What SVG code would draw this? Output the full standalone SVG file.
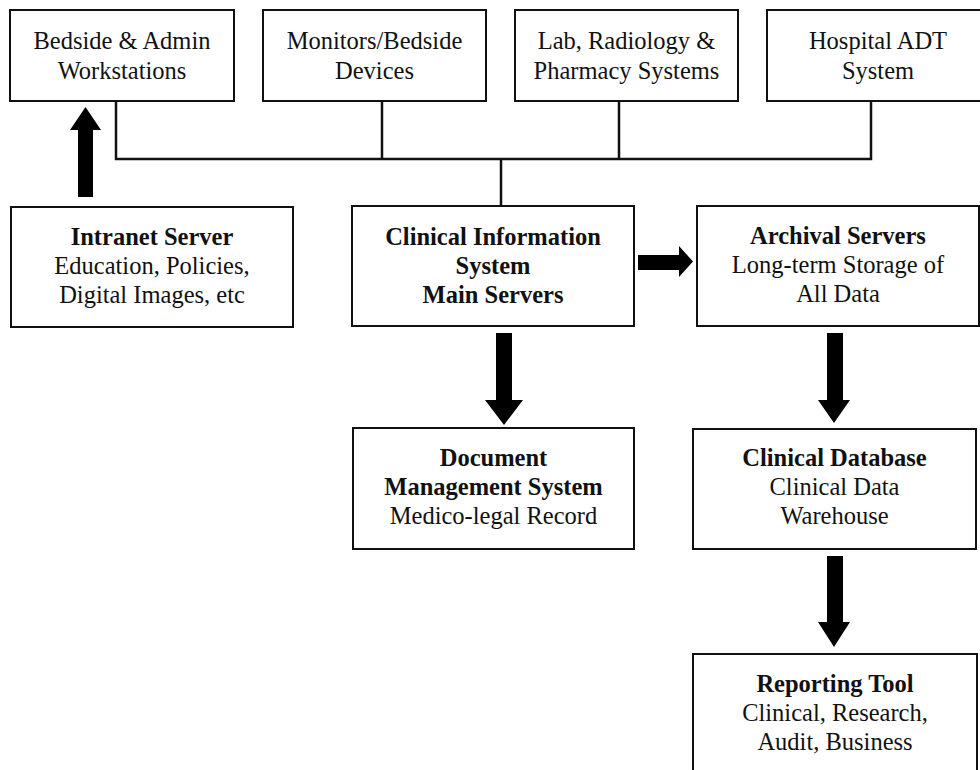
<svg xmlns="http://www.w3.org/2000/svg" width="980" height="770" viewBox="0 0 980 770">
<style>
.box{fill:#fff;stroke:#111;stroke-width:2}
.t{font-family:"Liberation Serif","Times New Roman",serif;font-size:24.5px;fill:#111;text-anchor:middle}
.b{font-weight:bold}
.bus{fill:none;stroke:#111;stroke-width:2.5}
.arr{fill:#000}
</style>
<rect x="0" y="0" width="980" height="770" fill="#fff"/>
<g id="connectors">
<path class="bus" d="M116 101V159H871V101M382 101V159M619 101V159M501 159V206"/>
<polygon class="arr" points="78,197 93,197 93,130 101,130 85.5,107 70,130 78,130"/>
<polygon class="arr" points="638,255 679,255 679,246 693,261.5 679,277 679,270 638,270"/>
<polygon class="arr" points="496,333 512,333 512,400 523,400 504,425 485,400 496,400"/>
<polygon class="arr" points="827,333 843,333 843,400 850,400 834,423 818,400 827,400"/>
<polygon class="arr" points="827,556 843,556 843,622 850,622 834,647 818,622 827,622"/>
</g>
<g id="bedside">
<rect class="box" x="10" y="10" width="224" height="91"/>
<text class="t" x="122" y="49">Bedside &amp; Admin</text>
<text class="t" x="122" y="79">Workstations</text>
</g>
<g id="monitors">
<rect class="box" x="263" y="10" width="223" height="91"/>
<text class="t" x="374.5" y="49">Monitors/Bedside</text>
<text class="t" x="374.5" y="79">Devices</text>
</g>
<g id="lab">
<rect class="box" x="515" y="10" width="223" height="91"/>
<text class="t" x="626.5" y="49">Lab, Radiology &amp;</text>
<text class="t" x="626.5" y="79">Pharmacy Systems</text>
</g>
<g id="adt">
<rect class="box" x="767" y="10" width="224" height="91"/>
<text class="t" x="878" y="49">Hospital ADT</text>
<text class="t" x="878" y="79">System</text>
</g>
<g id="intranet">
<rect class="box" x="11" y="207" width="282" height="120"/>
<text class="t b" x="152" y="245">Intranet Server</text>
<text class="t" x="152" y="274">Education, Policies,</text>
<text class="t" x="152" y="303">Digital Images, etc</text>
</g>
<g id="cis">
<rect class="box" x="352" y="206" width="282" height="120"/>
<text class="t b" x="493" y="245">Clinical Information</text>
<text class="t b" x="493" y="274">System</text>
<text class="t b" x="493" y="303">Main Servers</text>
</g>
<g id="archival">
<rect class="box" x="697" y="206" width="282" height="120"/>
<text class="t b" x="838" y="244">Archival Servers</text>
<text class="t" x="838" y="273">Long-term Storage of</text>
<text class="t" x="838" y="302">All Data</text>
</g>
<g id="document">
<rect class="box" x="353" y="428" width="281" height="121"/>
<text class="t b" x="493.5" y="466">Document</text>
<text class="t b" x="493.5" y="495">Management System</text>
<text class="t" x="493.5" y="524">Medico-legal Record</text>
</g>
<g id="clinicaldb">
<rect class="box" x="693" y="429" width="283" height="120"/>
<text class="t b" x="834.5" y="466">Clinical Database</text>
<text class="t" x="834.5" y="495">Clinical Data</text>
<text class="t" x="834.5" y="524">Warehouse</text>
</g>
<g id="reporting">
<rect class="box" x="693" y="654" width="284" height="125"/>
<text class="t b" x="835" y="692">Reporting Tool</text>
<text class="t" x="835" y="721">Clinical, Research,</text>
<text class="t" x="835" y="750">Audit, Business</text>
</g>
</svg>
